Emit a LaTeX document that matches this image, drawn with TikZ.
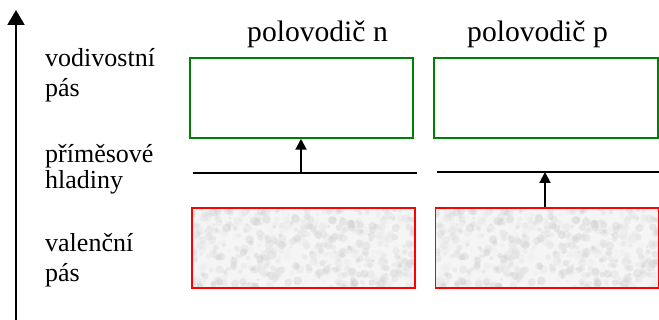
\documentclass[tikz,border=0pt]{standalone}
\usepackage{fontspec}
\setmainfont{Liberation Serif}
\usetikzlibrary{arrows.meta}
\begin{document}
\begin{tikzpicture}[x=1pt,y=-1pt,
  lbl/.style={anchor=base west,inner sep=0pt,font=\fontsize{26}{30}\selectfont},
  ttl/.style={anchor=base west,inner sep=0pt,font=\fontsize{29.6}{34}\selectfont},
  cband/.style={draw=green!50!black,line width=1.5pt,minimum width=223pt,minimum height=80pt,inner sep=0pt},
  vband/.style={draw=red,line width=1.5pt,minimum width=223pt,minimum height=80pt,inner sep=0pt},
  level/.style={line width=2pt},
  jump/.style={line width=2pt,-{Triangle[length=11pt,width=11pt]}},
  axis/.style={line width=2pt,-{Triangle[length=15pt,width=17pt]}}]
\useasboundingbox (0,0) rectangle (659,320);

% energy axis
\coordinate (ebot) at (16,320);
\coordinate (etop) at (16,10);
\draw[axis] (ebot) -- (etop);

% row labels
\node[lbl] (l1a) at (45,67) {vodivostní};
\node[lbl] (l1b) at (45,97) {pás};
\node[lbl] (l2a) at (45,163) {příměsové};
\node[lbl] (l2b) at (45,189) {hladiny};
\node[lbl] (l3a) at (45,252) {valenční};
\node[lbl] (l3b) at (45,282) {pás};

% column titles
\node[ttl] (tn) at (247,42) {polovodič n};
\node[ttl] (tp) at (467,42) {polovodič p};

% valence bands with a grainy grey fill
\foreach \nm/\cx in {vn/303.5, vp/547}{
  \begin{scope}
    \clip (\cx-111.5,208) rectangle (\cx+111.5,288);
    \fill[gray!8] (\cx-111.5,208) rectangle (\cx+111.5,288);
    \pgfmathsetseed{11}
    \foreach \k in {1,...,600}{
      \pgfmathsetmacro{\px}{\cx-111.5+223*rnd}
      \pgfmathsetmacro{\py}{208+80*rnd}
      \pgfmathsetmacro{\pr}{1.5+3*rnd}
      \pgfmathsetmacro{\pg}{6+18*rnd}
      \fill[black!\pg,opacity=0.3] (\px,\py) circle[radius=\pr];
    }
  \end{scope}
  \node[vband] (\nm) at (\cx,248) {};
}

% conduction bands
\node[cband] (cn) at (301.5,98) {};
\node[cband,minimum width=224pt] (cp) at (546,98) {};

% impurity levels
\coordinate (dnl) at (193,173);
\coordinate (dnr) at (417,173);
\coordinate (apl) at (437,172);
\coordinate (apr) at (659,172);
\draw[level] (dnl) -- (dnr);
\draw[level] (apl) -- (apr);

% transitions
\coordinate (dn) at (301,173);
\draw[jump] (dn) -- (dn |- cn.south);
\coordinate (ap) at (545,172);
\draw[jump] (ap |- vp.north) -- (ap);
\end{tikzpicture}
\end{document}
